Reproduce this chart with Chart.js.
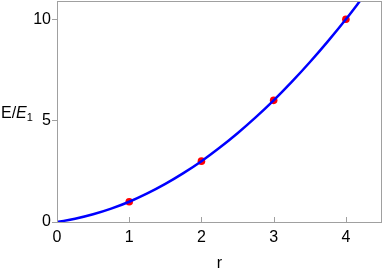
<!DOCTYPE html>
<html>
<head>
<meta charset="utf-8">
<script src="https://cdn.jsdelivr.net/npm/chart.js@4/dist/chart.umd.min.js"></script>
<style>
  html, body { margin: 0; padding: 0; background: #fff; }
  #wrap { width: 382px; height: 273px; }
</style>
</head>
<body>
<div id="wrap"><canvas id="c"></canvas></div>
<script>
"use strict";

// curve
const curveR = [0, 0.25, 0.5, 0.75, 1, 1.25, 1.5, 1.75, 2, 2.25, 2.5, 2.75, 3, 3.25, 3.5, 3.75, 4, 4.25];
const curveE = [0, 0.16, 0.38, 0.66, 1, 1.41, 1.88, 2.41, 3, 3.66, 4.38, 5.16, 6, 6.91, 7.88, 8.91, 10, 11.16];

// red points
const pointR = [1, 2, 3, 4];
const pointE = [1, 3, 6, 10];

const xTicks = [0, 1, 2, 3, 4];
const yTicks = [0, 5, 10];

const FONT = "'Liberation Sans', Arial, sans-serif";
const FRAME = '#a0a0a0';

const framePlugin = {
  id: 'frame',
  afterDraw(chart) {
    const { ctx, chartArea: a, scales } = chart;
    ctx.save();
    ctx.strokeStyle = FRAME;
    ctx.lineWidth = 1;
    ctx.strokeRect(a.left + 0.5, a.top + 0.5, a.right - a.left - 1, a.bottom - a.top);
    // inward ticks on the bottom axis
    xTicks.forEach(v => {
      if (v === 0) return;
      const x = Math.round(scales.x.getPixelForValue(v)) + 0.5;
      ctx.beginPath();
      ctx.moveTo(x, a.bottom);
      ctx.lineTo(x, a.bottom - 5);
      ctx.stroke();
    });
    // y axis label E/E1
    ctx.fillStyle = '#000';
    ctx.textBaseline = 'alphabetic';
    ctx.textAlign = 'left';
    let x = 1;
    const y = 118;
    ctx.font = '16px ' + FONT;
    ctx.fillText('E/', x, y);
    x += ctx.measureText('E/').width;
    ctx.font = 'italic 16px ' + FONT;
    ctx.fillText('E', x, y);
    x += ctx.measureText('E').width;
    ctx.font = '11px ' + FONT;
    ctx.fillText('1', x, y + 3);
    ctx.restore();
  }
};

new Chart(document.getElementById('c'), {
  type: 'scatter',
  data: {
    datasets: [
      {
        type: 'line',
        data: curveR.map((r, i) => ({ x: r, y: curveE[i] })),
        borderColor: '#0000ff',
        borderWidth: 2.5,
        pointRadius: 0,
        tension: 0.4,
        fill: false,
        order: 1
      },
      {
        data: pointR.map((r, i) => ({ x: r, y: pointE[i] })),
        backgroundColor: '#ff0000',
        borderWidth: 0,
        pointRadius: 3.8,
        order: 2
      }
    ]
  },
  options: {
    responsive: true,
    maintainAspectRatio: false,
    animation: false,
    layout: { autoPadding: false, padding: { top: 1, right: 0, left: 0, bottom: 0 } },
    plugins: { legend: { display: false }, tooltip: { enabled: false } },
    scales: {
      x: {
        type: 'linear',
        min: 0,
        max: 4.5,
        afterBuildTicks: s => { s.ticks = xTicks.map(v => ({ value: v })); },
        afterFit: s => { s.height = 51; s.paddingLeft = 0; s.paddingRight = 0; },
        grid: { display: false, drawTicks: false },
        border: { display: false },
        ticks: { color: '#000', font: { family: FONT, size: 16 }, padding: 6, maxRotation: 0 },
        title: { display: true, text: 'r', color: '#000', font: { family: FONT, size: 16 }, padding: { top: 4, bottom: 0 } }
      },
      y: {
        min: 0,
        max: 10.9,
        afterBuildTicks: s => { s.ticks = yTicks.map(v => ({ value: v })); },
        afterFit: s => { s.width = 57; s.paddingTop = 0; s.paddingBottom = 0; },
        grid: { drawOnChartArea: false, drawTicks: true, tickLength: 5, color: FRAME },
        border: { display: false },
        ticks: { color: '#000', font: { family: FONT, size: 16 }, padding: 1 }
      }
    }
  },
  plugins: [framePlugin]
});
</script>
</body>
</html>
